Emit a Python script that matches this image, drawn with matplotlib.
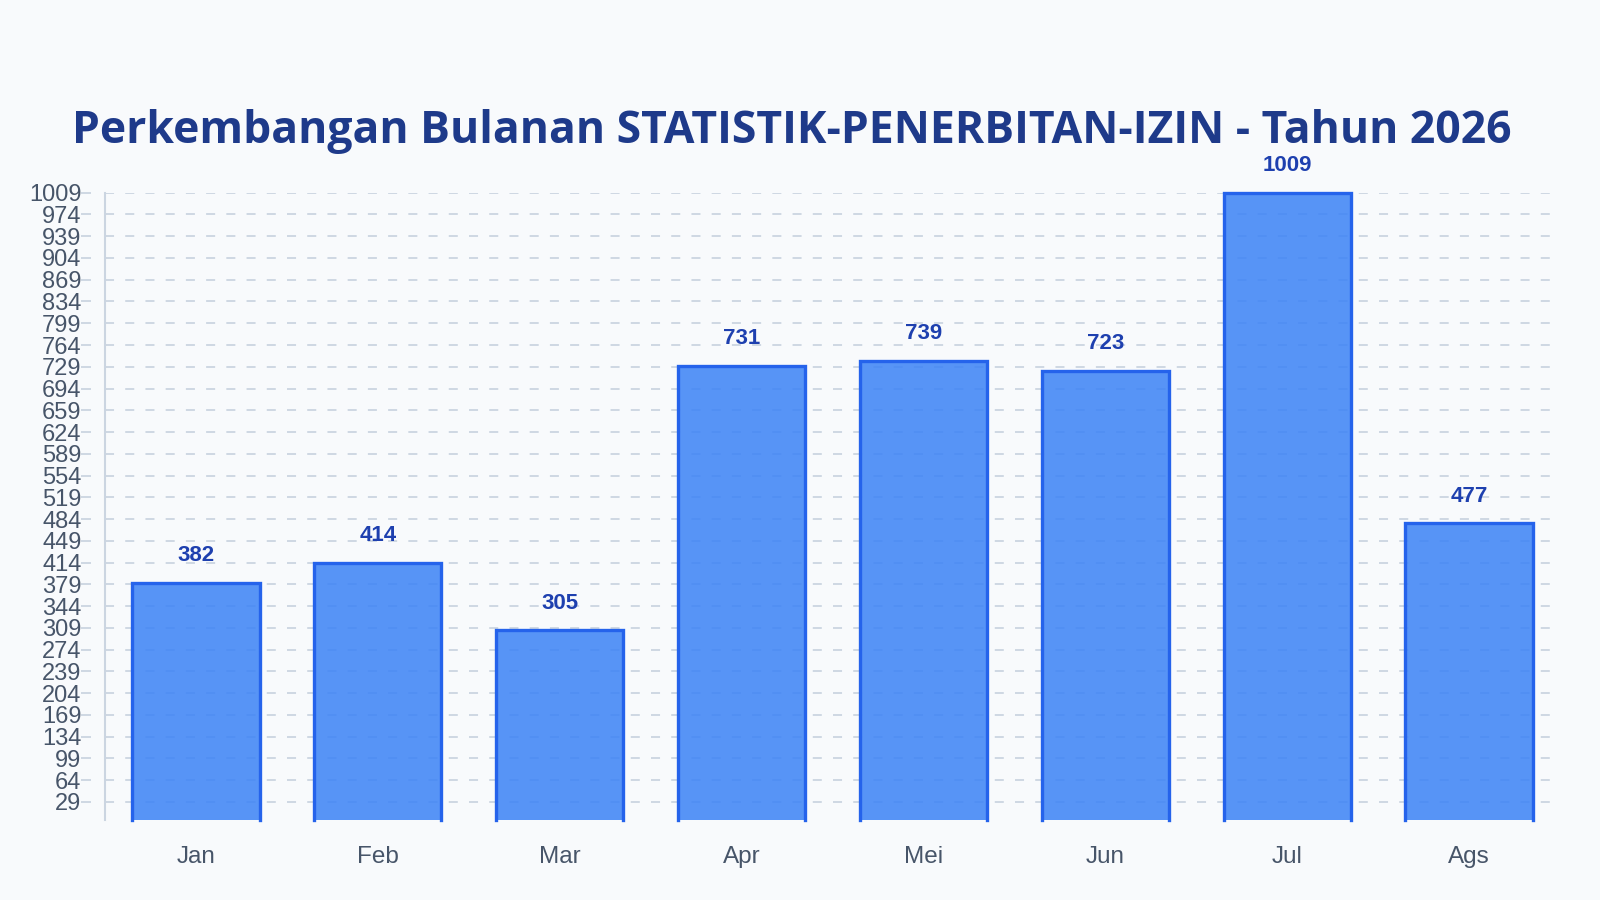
import matplotlib.pyplot as plt
import numpy as np

# data
months = ['Jan', 'Feb', 'Mar', 'Apr', 'Mei', 'Jun', 'Jul', 'Ags']
values = [382, 414, 305, 731, 739, 723, 1009, 477]
ytick_vals = list(range(29, 1010, 35))

bg = '#f8fafc'
fill = '#3b82f6'
edge = '#2563eb'
grid_c = '#cbd5e1'
text_c = '#475569'

plt.rcParams['font.family'] = ['Liberation Sans', 'DejaVu Sans']

fig = plt.figure(figsize=(16, 9), dpi=100, facecolor=bg)
ax = fig.add_axes([105 / 1600, 1 - 820 / 900, 1455 / 1600, (820 - 192.7) / 900])
ax.set_facecolor(bg)

x = np.arange(len(months))
bars = ax.bar(x, values, width=0.70, color=fill, alpha=0.85, linewidth=0, zorder=2)

# outline on three sides (no bottom border)
for b in bars:
    x0, w, h = b.get_x(), b.get_width(), b.get_height()
    ax.plot([x0, x0, x0 + w, x0 + w], [0, h, h, 0], color=edge, lw=2.4,
            solid_joinstyle='miter', zorder=3, clip_on=False)

for xi, v in zip(x, values):
    ax.annotate(str(v), (xi, v), xytext=(0, 12), textcoords='offset points',
                ha='center', va='bottom', fontsize=16, fontweight='bold',
                color='#1e40af')

ax.set_xlim(-0.5, len(months) - 0.5)
ax.set_ylim(0, max(values))
ax.set_xticks(x)
ax.set_xticklabels(months)
ax.set_yticks(ytick_vals)

ax.grid(axis='y', color=grid_c, lw=1.3, linestyle=(0, (5.0, 6.2)), zorder=1)
ax.set_axisbelow(True)

for s in ['top', 'right', 'bottom']:
    ax.spines[s].set_visible(False)
ax.spines['left'].set_position(('outward', 10))
ax.spines['left'].set_visible(False)
ax.axvline(-0.5, color=grid_c, lw=1.5, clip_on=False, zorder=1)

ax.tick_params(axis='y', length=7, width=1.3, color=grid_c, labelsize=17,
               labelcolor=text_c, pad=0)
ax.tick_params(axis='x', length=0, labelsize=17.5, labelcolor=text_c, pad=19)

fig.text(0.4946, 1 - 143.3 / 900, 'Perkembangan Bulanan STATISTIK-PENERBITAN-IZIN - Tahun 2026',
         ha='center', va='baseline', fontsize=32, fontweight='bold',
         color='#1e3a8a', family=['Open Sans', 'DejaVu Sans'])

fig.savefig('out.png', dpi=100, facecolor=bg)
